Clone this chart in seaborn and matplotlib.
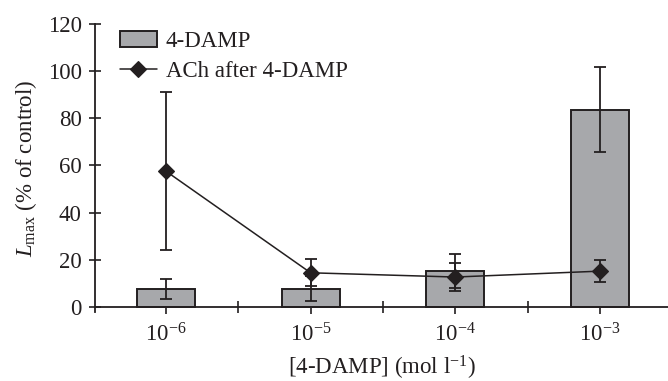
import numpy as np
import pandas as pd
import matplotlib
matplotlib.use("Agg")
import matplotlib.pyplot as plt
import seaborn as sns

categories = ["10$^{-6}$", "10$^{-5}$", "10$^{-4}$", "10$^{-3}$"]
damp_values = [7.7, 7.8, 15.3, 83.6]
damp_errors = [4.2, 5.2, 7.3, 18.0]
ach_values = [57.6, 14.5, 12.7, 15.2]
ach_errors = [33.4, 5.7, 5.8, 4.6]

FS = 16.5

sns.set_theme(style="white")
plt.rcParams["font.family"] = ["Liberation Serif", "DejaVu Serif"]
plt.rcParams["mathtext.fontset"] = "custom"
plt.rcParams["mathtext.rm"] = "Liberation Serif"
plt.rcParams["mathtext.it"] = "Liberation Serif:italic"
plt.rcParams["mathtext.bf"] = "Liberation Serif:bold"
plt.rcParams["font.size"] = FS

dark = "#231f20"
gray = "#a7a8ab"

fig = plt.figure(figsize=(6.68, 3.81), dpi=100)
ax = fig.add_axes([95 / 668, 1 - 311.7 / 381, (668 - 95) / 668, (311.7 - 24) / 381])

df = pd.DataFrame({"conc": categories, "damp": damp_values, "ach": ach_values})

sns.barplot(data=df, x="conc", y="damp", order=categories, color=gray,
            edgecolor=dark, linewidth=1.4, width=0.40, saturation=1,
            errorbar=None, ax=ax, label="4-DAMP", zorder=2)
pos = np.arange(len(categories))
ax.errorbar(pos, damp_values, yerr=damp_errors, fmt="none", ecolor=dark,
            elinewidth=1.3, capsize=4.5, capthick=1.3, zorder=3)

sns.pointplot(data=df, x="conc", y="ach", order=categories, color=dark,
              markers="D", markersize=8, linewidth=1.1, errorbar=None,
              ax=ax, label="ACh after 4-DAMP", zorder=5)
ax.errorbar(pos, ach_values, yerr=ach_errors, fmt="none", ecolor=dark,
            elinewidth=1.3, capsize=4.5, capthick=1.3, zorder=4)

ax.set_xlim(-0.49, 3.47)
ax.set_ylim(-2, 120)
ax.set_yticks([0, 20, 40, 60, 80, 100, 120])
ax.spines["bottom"].set_position(("data", 0))
ax.spines["top"].set_visible(False)
ax.spines["right"].set_visible(False)
for s in ["left", "bottom"]:
    ax.spines[s].set_color(dark)
    ax.spines[s].set_linewidth(1.3)

ax.set_xticks(pos)
ax.set_xticklabels(categories)
ax.set_xticks([0.5, 1.5, 2.5], minor=True)
ax.tick_params(axis="x", which="major", direction="out", length=5, width=1.2,
               color=dark, pad=7, labelsize=FS, labelcolor=dark, bottom=True)
ax.tick_params(axis="x", which="minor", direction="inout", length=9, width=1.2,
               color=dark, bottom=True)
ax.tick_params(axis="y", direction="inout", length=9, width=1.2, color=dark,
               pad=5, labelsize=FS, labelcolor=dark, left=True)

ax.set_xlabel("[4-DAMP] (mol l$^{-1}$)", fontsize=FS, color=dark, labelpad=5)
ax.set_ylabel("$\\mathit{L}_{\\mathrm{max}}$ (% of control)", fontsize=FS,
              color=dark, labelpad=6)

handles, labels = ax.get_legend_handles_labels()
order = [labels.index("4-DAMP"), labels.index("ACh after 4-DAMP")]
leg = ax.legend([handles[i] for i in order], [labels[i] for i in order],
                loc="upper left", bbox_to_anchor=(120 / 668, 1 - 31 / 381),
                bbox_transform=fig.transFigure, frameon=False, fontsize=FS,
                handlelength=1.6, handletextpad=0.4, labelspacing=0.4,
                borderaxespad=0, borderpad=0)
for t in leg.get_texts():
    t.set_color(dark)

fig.savefig("out.png", dpi=100)
